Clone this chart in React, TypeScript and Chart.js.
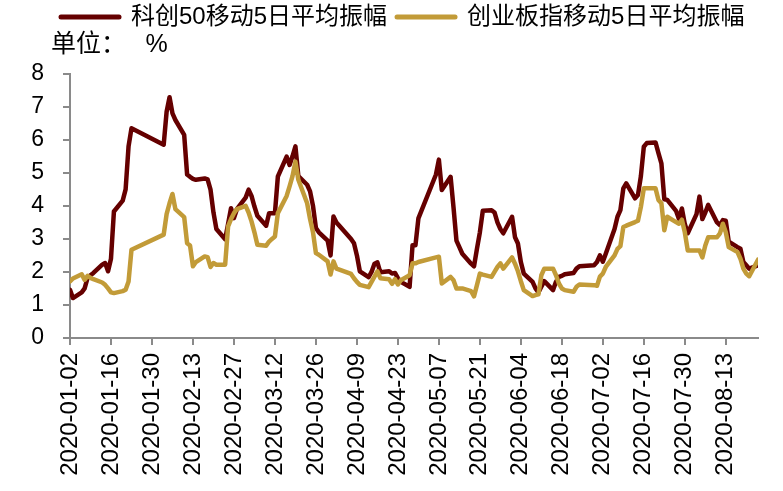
import { useEffect, useRef } from 'react';
import { Chart, registerables } from 'chart.js';

Chart.register(...registerables);

// ---- data ----
const seriesNames = ['科创50移动5日平均振幅', '创业板指移动5日平均振幅'];
const unitLabel = '单位：\u3000 %';

const xTickLabels = [
  '2020-01-02', '2020-01-16', '2020-01-30', '2020-02-13', '2020-02-27', '2020-03-12',
  '2020-03-26', '2020-04-09', '2020-04-23', '2020-05-07', '2020-05-21', '2020-06-04',
  '2020-06-18', '2020-07-02', '2020-07-16', '2020-07-30', '2020-08-13',
];
const yTicks = [0, 1, 2, 3, 4, 5, 6, 7, 8];
const lastDate = '2020-08-24';

// 科创50 (trading dates, 2020)
const kcDates = [
  '01-02', '01-03', '01-06', '01-07', '01-08', '01-09', '01-10', '01-13', '01-14', '01-15', '01-16', '01-17',
  '01-20', '01-21', '01-22', '01-23', '02-03', '02-04', '02-05', '02-06', '02-07', '02-10', '02-11', '02-12',
  '02-13', '02-14', '02-17', '02-18', '02-19', '02-20', '02-21', '02-24', '02-25', '02-26', '02-27', '02-28',
  '03-02', '03-03', '03-04', '03-05', '03-06', '03-09', '03-10', '03-11', '03-12', '03-13', '03-16', '03-17',
  '03-18', '03-19', '03-20', '03-23', '03-24', '03-25', '03-26', '03-27', '03-30', '03-31', '04-01', '04-02',
  '04-03', '04-07', '04-08', '04-09', '04-10', '04-13', '04-14', '04-15', '04-16', '04-17', '04-20', '04-21',
  '04-22', '04-23', '04-24', '04-27', '04-28', '04-29', '04-30', '05-06', '05-07', '05-08', '05-11', '05-12',
  '05-13', '05-14', '05-15', '05-18', '05-19', '05-20', '05-21', '05-22', '05-25', '05-26', '05-27', '05-28',
  '05-29', '06-01', '06-02', '06-03', '06-04', '06-05', '06-08', '06-09', '06-10', '06-11', '06-12', '06-15',
  '06-16', '06-17', '06-18', '06-19', '06-22', '06-23', '06-24', '06-29', '06-30', '07-01', '07-02', '07-03',
  '07-06', '07-07', '07-08', '07-09', '07-10', '07-13', '07-14', '07-15', '07-16', '07-17', '07-20', '07-21',
  '07-22', '07-23', '07-24', '07-27', '07-28', '07-29', '07-30', '07-31', '08-03', '08-04', '08-05', '08-06',
  '08-07', '08-10', '08-11', '08-12', '08-13', '08-14', '08-17', '08-18', '08-19', '08-20', '08-21', '08-24',
];
const kcValues = [
  1.46, 1.21, 1.38, 1.5, 1.82, 1.9, 1.97, 2.22, 2.27, 2.02, 2.4, 3.83,
  4.16, 4.5, 5.8, 6.35, 5.85, 6.85, 7.29, 6.8, 6.6, 6.15, 4.95, 4.88,
  4.82, 4.79, 4.83, 4.8, 4.49, 3.8, 3.3, 2.99, 3.45, 3.93, 3.63, 3.9,
  4.25, 4.49, 4.3, 3.98, 3.7, 3.4, 3.78, 3.78, 3.78, 4.89, 5.49, 5.24,
  5.5, 5.8, 4.9, 4.64, 4.44, 4.0, 3.33, 3.2, 2.95, 2.5, 3.68, 3.5,
  3.4, 3.0, 2.87, 2.5, 2.02, 1.84, 2.0, 2.25, 2.29, 1.99, 2.02, 1.95,
  1.97, 1.81, 1.7, 1.55, 2.81, 2.81, 3.62, 4.95, 5.4, 4.48, 4.88, 3.95,
  2.95, 2.75, 2.55, 2.25, 2.17, 2.7, 3.2, 3.85, 3.87, 3.8, 3.5, 3.3,
  3.17, 3.67, 3.05, 2.86, 2.3, 1.95, 1.7, 1.5, 1.38, 1.55, 1.72, 1.45,
  1.7, 1.85, 1.88, 1.93, 1.97, 2.1, 2.17, 2.2, 2.3, 2.5, 2.31, 2.55,
  3.3, 3.67, 3.87, 4.53, 4.68, 4.23, 4.33, 4.9, 5.79, 5.9, 5.92, 5.6,
  5.29, 4.2, 4.18, 3.85, 3.6, 3.92, 3.45, 3.17, 3.75, 4.28, 3.6, 3.8,
  4.03, 3.5, 3.42, 3.57, 3.55, 2.92, 2.75, 2.7, 2.3, 2.2, 2.1, 2.2,
];

// 创业板指 (same trading dates)
const cyDates = kcDates;
const cyValues = [
  1.71, 1.8, 1.93, 1.76, 1.88, 1.82, 1.78, 1.68, 1.61, 1.5, 1.38, 1.36,
  1.42, 1.46, 1.71, 2.67, 3.13, 3.75, 4.08, 4.36, 3.9, 3.66, 2.87, 2.8,
  2.17, 2.3, 2.47, 2.45, 2.15, 2.27, 2.22, 2.22, 3.38, 3.6, 3.78, 3.9,
  4.0, 3.8, 3.53, 3.2, 2.82, 2.79, 2.92, 3.0, 3.07, 3.78, 4.3, 4.59,
  4.9, 5.34, 4.79, 4.08, 3.6, 3.2, 2.57, 2.52, 2.32, 1.92, 2.32, 2.1,
  2.07, 1.94, 1.81, 1.7, 1.61, 1.54, 1.7, 1.86, 2.02, 1.81, 1.78, 1.64,
  1.78, 1.62, 1.75, 1.9, 2.26, 2.26, 2.3, 2.44, 2.46, 1.65, 1.85, 1.75,
  1.5, 1.5, 1.5, 1.42, 1.26, 1.6, 1.95, 1.92, 1.85, 2.0, 2.15, 2.26,
  2.1, 2.44, 2.25, 2.02, 1.72, 1.45, 1.27, 1.3, 1.32, 1.9, 2.1, 2.1,
  1.9, 1.65, 1.5, 1.45, 1.4, 1.55, 1.62, 1.6, 1.58, 1.86, 1.95, 2.15,
  2.5, 2.7, 2.78, 3.36, 3.4, 3.51, 3.55, 3.97, 4.53, 4.53, 4.53, 4.18,
  4.08, 3.26, 3.67, 3.51, 3.46, 3.58, 3.2, 2.65, 2.65, 2.65, 2.44, 2.8,
  3.05, 3.05, 3.17, 3.46, 3.2, 2.75, 2.6, 2.4, 2.1, 1.95, 1.87, 2.37,
];

const colors = ['#650000', '#C29B38'];

// ---- helpers ----
const BASE = Date.UTC(2020, 0, 2);
function dayIndex(iso: string): number {
  const [y, m, d] = iso.split('-').map(Number);
  return Math.round((Date.UTC(y, m - 1, d) - BASE) / 86400000);
}
function points(dates: string[], values: number[]) {
  return dates.map((md, i) => ({ x: dayIndex('2020-' + md), y: values[i] }));
}

const LATIN_CJK = "'Liberation Sans', Arial, 'Noto Sans CJK SC', sans-serif";
const AXIS_GRAY = '#8a8a8a';

// moves the legend and the unit title so that they start near the plot's left edge
const alignTopBoxes = {
  id: 'alignTopBoxes',
  afterLayout(chart: any) {
    const left = chart.chartArea.left - 19;
    if (chart.legend) chart.legend.left = left;
    if (chart.titleBlock) chart.titleBlock.left = left;
  },
};

export default function App() {
  const canvasRef = useRef<HTMLCanvasElement | null>(null);

  useEffect(() => {
    const canvas = canvasRef.current;
    if (!canvas) return;

    const chart = new Chart(canvas, {
      type: 'line',
      data: {
        datasets: [
          {
            label: seriesNames[0],
            data: points(kcDates, kcValues),
            borderColor: colors[0],
            backgroundColor: colors[0],
            borderWidth: 4.5,
            borderJoinStyle: 'round',
            borderCapStyle: 'round',
            pointRadius: 0,
            tension: 0,
            order: 2,
          },
          {
            label: seriesNames[1],
            data: points(cyDates, cyValues),
            borderColor: colors[1],
            backgroundColor: colors[1],
            borderWidth: 4.5,
            borderJoinStyle: 'round',
            borderCapStyle: 'round',
            pointRadius: 0,
            tension: 0,
            order: 1,
          },
        ],
      },
      options: {
        animation: false,
        responsive: true,
        maintainAspectRatio: false,
        devicePixelRatio: 1,
        events: [],
        layout: { padding: { left: 28, right: 0, top: -5, bottom: 0 } },
        plugins: {
          tooltip: { enabled: false },
          legend: {
            display: true,
            position: 'top',
            align: 'start',
            labels: {
              usePointStyle: true,
              pointStyle: 'line',
              pointStyleWidth: 58,
              padding: 10,
              color: '#000',
              font: { size: 24, family: LATIN_CJK },
              sort: (a: any, b: any) => a.datasetIndex - b.datasetIndex,
              generateLabels: (c: any) =>
                Chart.defaults.plugins.legend.labels
                  .generateLabels(c)
                  .map((it: any) => ({ ...it, lineWidth: 5, lineCap: 'round' })),
            },
          },
          title: {
            display: true,
            text: unitLabel,
            align: 'start',
            position: 'top',
            weight: 500,
            color: '#000',
            font: { size: 25, family: LATIN_CJK, weight: 'normal', lineHeight: 1.15 },
            padding: { top: -8, bottom: 14 },
          },
        },
        scales: {
          x: {
            type: 'linear',
            min: 0,
            max: dayIndex(lastDate),
            afterBuildTicks: (s: any) => {
              s.ticks = xTickLabels.map((l) => ({ value: dayIndex(l) }));
            },
            afterFit: (s: any) => {
              s.height = 153;
            },
            ticks: {
              autoSkip: false,
              minRotation: 90,
              maxRotation: 90,
              padding: 8,
              color: '#000',
              font: { size: 24, family: LATIN_CJK },
              callback: (_v: any, i: number) => xTickLabels[i],
            },
            grid: {
              drawOnChartArea: false,
              drawTicks: true,
              tickLength: 7,
              color: AXIS_GRAY,
              lineWidth: 2,
            },
            border: { display: true, color: AXIS_GRAY, width: 2 },
          },
          y: {
            type: 'linear',
            min: yTicks[0],
            max: yTicks[yTicks.length - 1],
            afterBuildTicks: (s: any) => {
              s.ticks = yTicks.map((v) => ({ value: v }));
            },
            afterFit: (s: any) => {
              s.width = 42;
            },
            ticks: {
              padding: 19,
              autoSkip: false,
              color: '#000',
              font: { size: 23, family: LATIN_CJK },
              callback: (v: any) => String(v),
            },
            grid: {
              drawOnChartArea: false,
              drawTicks: true,
              tickLength: 7,
              color: AXIS_GRAY,
              lineWidth: 2,
            },
            border: { display: true, color: AXIS_GRAY, width: 2 },
          },
          pad: {
            type: 'linear',
            position: 'right',
            display: true,
            ticks: { display: false },
            grid: { display: false },
            border: { display: false },
            afterFit: (s: any) => {
              s.width = 25;
            },
          },
        },
      } as any,
      plugins: [alignTopBoxes],
    });

    return () => chart.destroy();
  }, []);

  return (
    <div style={{ position: 'absolute', left: 0, top: 0, width: 783, height: 491, background: '#fff' }}>
      <canvas ref={canvasRef} />
    </div>
  );
}
